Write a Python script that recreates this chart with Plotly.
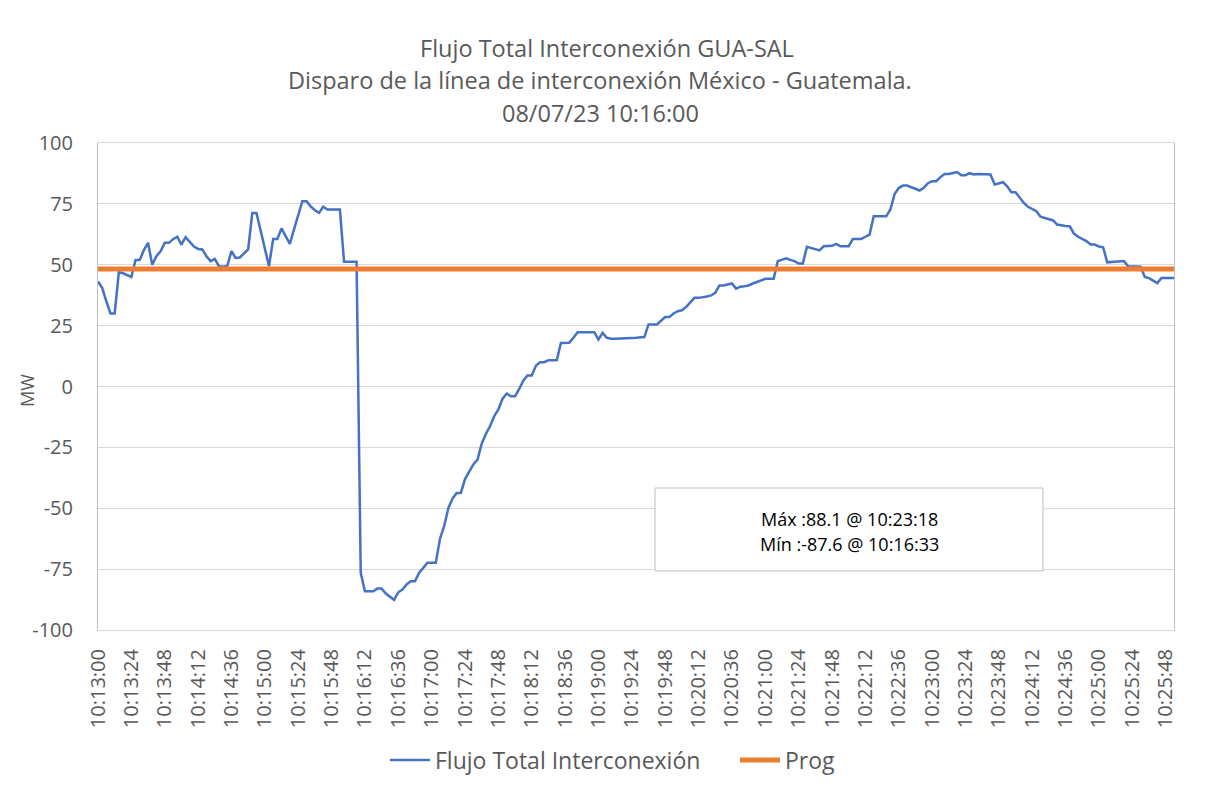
import pandas as pd
import plotly.graph_objects as go

# ---------------- data ----------------
START_TIME = "2023-07-08 10:13:00"
STEP_SECONDS = 3

flujo_mw = [
    43.2, 40.5, 35, 30, 30, 47, 46.5, 45.7, 45, 52,
    52, 56, 59, 50, 53.5, 55.5, 59, 59, 60.5, 61.5,
    58.3, 61.3, 59.2, 57.5, 56.5, 56.3, 53.5, 51.5, 52.4, 49.4,
    49.2, 49.5, 55.6, 52.8, 53, 54.5, 56.3, 71.3, 71.3, 64,
    56.5, 49.4, 60.6, 60.6, 64.9, 61.5, 58.6, 64.5, 70.5, 76.1,
    76.1, 74, 72.4, 71.3, 73.8, 72.7, 72.7, 72.7, 72.7, 51.2,
    51.2, 51.2, 51.2, -76.5, -84.1, -84.1, -84.1, -83, -83, -85,
    -86.5, -87.6, -84.5, -83.4, -81.3, -80, -80, -76.5, -74.5, -72.4,
    -72.4, -72.4, -62.5, -57.4, -50, -46, -43.7, -43.7, -38, -35,
    -32, -30, -23.5, -19.5, -16.3, -12.2, -9.4, -5, -2.9, -4,
    -4, -1, 2.5, 4.5, 4.5, 8.5, 10, 10, 10.8, 10.8,
    10.8, 17.9, 17.9, 18, 20, 22.3, 22.3, 22.3, 22.3, 22.3,
    19.3, 22, 20, 19.6, 19.6, 19.6, 19.8, 19.8, 19.9, 20,
    20.2, 20.3, 25.5, 25.5, 25.5, 27, 28.5, 28.5, 30, 30.9,
    31.3, 32.6, 34.5, 36.4, 36.4, 36.6, 37, 37.4, 38.5, 41.5,
    41.5, 41.9, 42.3, 40.2, 41, 41.2, 41.5, 42.3, 43, 43.7,
    44.2, 44.2, 44.2, 51.5, 52, 52.6, 52, 51.5, 50.5, 50.5,
    57.4, 57, 56.4, 55.9, 57.6, 57.6, 57.8, 58.6, 57.6, 57.6,
    57.6, 60.6, 60.6, 60.6, 61.5, 62.4, 69.9, 69.9, 69.9, 69.9,
    72.7, 79, 81.5, 82.5, 82.5, 81.8, 81.1, 80.5, 81.6, 83.5,
    84.3, 84.3, 86, 87.3, 87.3, 87.6, 88.1, 86.8, 86.8, 87.6,
    87.1, 87.3, 87.2, 87.1, 87.1, 83, 83.5, 83.9, 82.2, 79.8,
    79.8, 77.5, 75.4, 73.8, 73, 72, 69.7, 69.3, 68.8, 68.2,
    66.5, 66.1, 65.9, 65.8, 62.8, 61.5, 60.5, 59.7, 58.3, 58.3,
    57.5, 57.2, 51, 51.2, 51.4, 51.5, 51.5, 49.4, 49.4, 49.4,
    49.2, 45, 44.5, 43.5, 42.5, 44.6, 44.6, 44.6, 44.6,
]
PROG_MW = 48.3

TICK_EVERY = 8  # one label every 24 s

title_lines = [
    "Flujo Total Interconexión GUA-SAL",
    "Disparo de la línea de interconexión México - Guatemala.",
    "08/07/23 10:16:00",
]
stats_lines = ["Máx :88.1 @ 10:23:18", "Mín :-87.6 @ 10:16:33"]
series_names = ["Flujo Total Interconexión", "Prog"]
y_ticks = [100, 75, 50, 25, 0, -25, -50, -75, -100]
y_tick_text = ["100", "75", "50", "25", "0", "-25", "-50", "-75", "-100"]

# ---------------- build ----------------
start = pd.Timestamp(START_TIME)
times = [(start + pd.Timedelta(seconds=STEP_SECONDS * i)).strftime("%H:%M:%S")
         for i in range(len(flujo_mw))]
prog_mw = [PROG_MW for _ in times]

GRAY = "#595959"
GRID = "#d9d9d9"
FONT = "Open Sans, Liberation Sans, Arial, sans-serif"

OFF = 8  # page body margin
W, H = 1192, 775
# plot area in page pixels: x 98..1174, y 143..630
L = 98 - OFF
T = 143 - OFF
R = W - (1174 - OFF)
B = H - (630 - OFF)
PW, PH = W - L - R, H - T - B


def px_x(x):
    return (x - OFF - L) / PW


def px_y(y):
    return (H - B - (y - OFF)) / PH


fig = go.Figure()
fig.add_trace(go.Scatter(
    x=times, y=flujo_mw, mode="lines", name=series_names[0],
    line=dict(color="#4472C4", width=2.5),
))
fig.add_trace(go.Scatter(
    x=times, y=prog_mw, mode="lines", name=series_names[1],
    line=dict(color="#ED7D31", width=5),
))

annotations = []
for text, xpix, ypix in zip(title_lines, [607, 600, 600], [48, 80, 113]):
    annotations.append(dict(
        text=text, x=px_x(xpix), xref="paper", xanchor="center",
        y=px_y(ypix), yref="paper", yanchor="middle", showarrow=False,
        font=dict(size=23.5, color=GRAY, family=FONT),
    ))

for text, ypix in zip(stats_lines, [519, 544]):
    annotations.append(dict(
        text=text, x=px_x(849), xref="paper", xanchor="center",
        y=px_y(ypix), yref="paper", yanchor="middle", showarrow=False,
        font=dict(size=18, color="#000000", family=FONT),
    ))
annotations.append(dict(
    text="MW", x=px_x(27), xref="paper", xanchor="center",
    y=px_y(391), yref="paper", yanchor="middle", showarrow=False,
    textangle=-90, font=dict(size=18, color=GRAY, family=FONT),
))

shapes = [
    dict(type="rect", xref="paper", yref="paper",
         x0=px_x(655), x1=px_x(1043), y0=px_y(571), y1=px_y(488),
         line=dict(color="#bfbfbf", width=1), fillcolor="white", layer="above"),
]

fig.update_layout(
    width=W, height=H,
    margin=dict(l=L, r=R, t=T, b=B, autoexpand=False),
    paper_bgcolor="white", plot_bgcolor="white",
    font=dict(family=FONT, color=GRAY),
    showlegend=True,
    legend=dict(
        orientation="h", x=px_x(385), xanchor="left",
        y=px_y(760), yanchor="middle",
        font=dict(size=23, color=GRAY, family=FONT),
        itemwidth=40,
        entrywidth=295, entrywidthmode="pixels",
    ),
    annotations=annotations,
    shapes=shapes,
)
fig.update_xaxes(
    type="category",
    automargin=False,
    range=[0, len(times) - 1],
    tickmode="array",
    tickvals=times[::TICK_EVERY],
    ticktext=times[::TICK_EVERY],
    tickangle=-90,
    tickfont=dict(size=20, color=GRAY, family=FONT),
    showgrid=False,
    showline=True, linecolor=GRID, linewidth=1, mirror=True,
    ticks="", ticklabelstandoff=10,
)
fig.update_yaxes(
    automargin=False,
    range=[-100, 100],
    tickmode="array", tickvals=y_ticks, ticktext=y_tick_text,
    tickfont=dict(size=20, color=GRAY, family=FONT),
    showgrid=True, gridcolor=GRID, gridwidth=1,
    zeroline=False,
    showline=True, linecolor="#bfbfbf", linewidth=1, mirror=True,
    ticks="", ticklabelstandoff=20,
)

fig.write_html("out.html")
